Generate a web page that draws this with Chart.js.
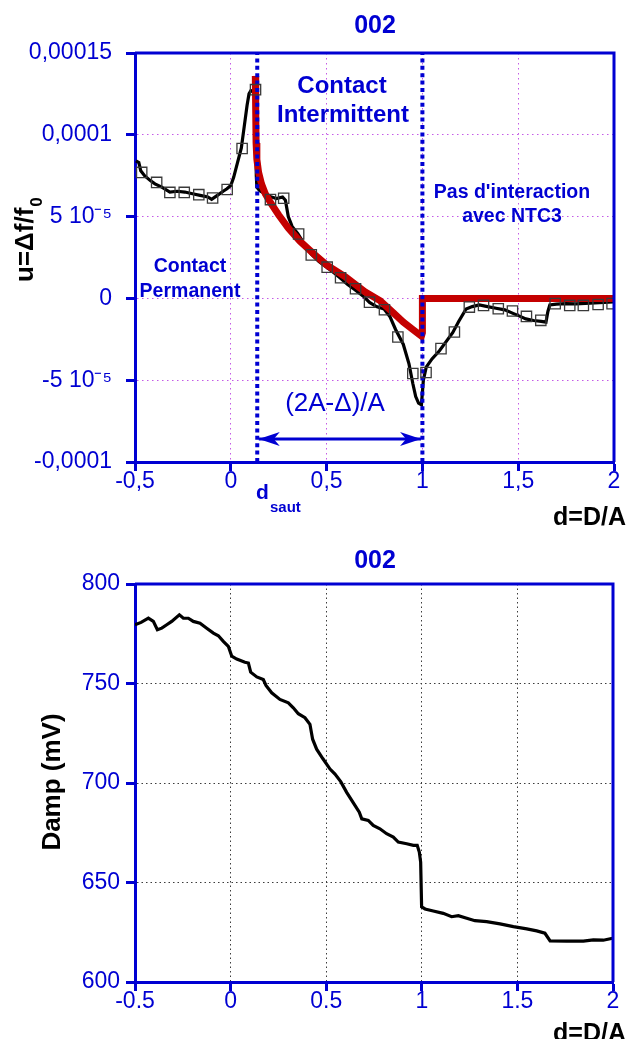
<!DOCTYPE html>
<html>
<head>
<meta charset="utf-8">
<style>
html,body{margin:0;padding:0;background:#fff;width:627px;height:1039px;overflow:hidden}
#w1{position:absolute;left:0;top:0;width:627px;height:530px}
#w2{position:absolute;left:0;top:530px;width:627px;height:509px}
</style>
<script src="https://cdn.jsdelivr.net/npm/chart.js@4.4.1/dist/chart.umd.min.js"></script>
</head>
<body>
<div id="w1"><canvas id="c1"></canvas></div>
<div id="w2"><canvas id="c2"></canvas></div>
<script>
// ---------- DATA: top chart (u = Δf/f0 vs d = D/A) ----------
const topLineX = [-0.495,-0.48,-0.47,-0.45,-0.42,-0.396,-0.36,-0.318,-0.28,-0.24,-0.20,-0.16,-0.12,-0.10,-0.07,-0.04,-0.02,0.0,0.015,0.035,0.055,0.07,0.085,0.095,0.105,0.115,0.125,0.13,0.133,0.136,0.15,0.17,0.20,0.238,0.27,0.285,0.30,0.32,0.35,0.39,0.42,0.46,0.50,0.54,0.576,0.61,0.646,0.69,0.724,0.76,0.80,0.83,0.86,0.90,0.93,0.95,0.965,0.98,0.995,1.005,1.02,1.05,1.089,1.12,1.158,1.19,1.228,1.26,1.297,1.34,1.384,1.43,1.47,1.51,1.54,1.58,1.62,1.645,1.655,1.665,1.70,1.748,1.80,1.85,1.90,1.95,1.995];
const topLineY = [8.4e-5,8.3e-5,7.8e-5,7.5e-5,7.2e-5,7.0e-5,6.8e-5,6.5e-5,6.55e-5,6.5e-5,6.4e-5,6.3e-5,6.2e-5,6.05e-5,6.3e-5,6.55e-5,6.7e-5,6.9e-5,7.4e-5,8.3e-5,9.2e-5,1.05e-4,1.18e-4,1.25e-4,1.27e-4,1.265e-4,1.275e-4,1.25e-4,7.5e-5,6.8e-5,6.6e-5,6.45e-5,6.25e-5,6.1e-5,6.2e-5,6.0e-5,5.0e-5,4.4e-5,3.95e-5,3.2e-5,2.7e-5,2.25e-5,1.9e-5,1.55e-5,1.2e-5,8.5e-6,5.5e-6,1.5e-6,-2.5e-6,-5e-6,-6.5e-6,-1.1e-5,-1.9e-5,-2.8e-5,-4.0e-5,-5.2e-5,-6.0e-5,-6.4e-5,-6.5e-5,-5.0e-5,-4.2e-5,-3.7e-5,-3.2e-5,-2.7e-5,-2.1e-5,-1.4e-5,-6.5e-6,-5e-6,-4e-6,-5e-6,-6e-6,-7e-6,-9e-6,-1.1e-5,-1.25e-5,-1.35e-5,-1.4e-5,-1.45e-5,-8e-6,-4e-6,-3.5e-6,-3.2e-6,-3.3e-6,-3.0e-6,-2.8e-6,-2.5e-6,-2.2e-6];

const topFitX = [0.128,0.130,0.132,0.136,0.145,0.16,0.18,0.21,0.25,0.30,0.36,0.43,0.50,0.60,0.70,0.78,0.85,0.90,0.95,0.995,1.0,1.0,2.0];
const topFitY = [1.36e-4,1.15e-4,9.5e-5,8.5e-5,7.7e-5,7.0e-5,6.4e-5,5.8e-5,5.1e-5,4.3e-5,3.5e-5,2.75e-5,2.05e-5,1.3e-5,4e-6,-1.5e-6,-9e-6,-1.45e-5,-1.9e-5,-2.3e-5,-2.1e-5,0,0];

const topMarkX = [-0.465,-0.387,-0.318,-0.243,-0.167,-0.095,-0.019,0.059,0.129,0.207,0.276,0.354,0.42,0.503,0.573,0.651,0.724,0.802,0.872,0.95,1.019,1.097,1.167,1.245,1.319,1.396,1.47,1.543,1.618,1.693,1.769,1.84,1.917,1.99];
const topMarkY = [7.7e-5,7.09e-5,6.48e-5,6.48e-5,6.34e-5,6.14e-5,6.66e-5,9.16e-5,1.276e-4,6.04e-5,6.12e-5,3.94e-5,2.66e-5,1.91e-5,1.26e-5,5.9e-6,-2.3e-6,-6.9e-6,-2.36e-5,-4.59e-5,-4.53e-5,-3.07e-5,-2.05e-5,-5.3e-6,-4.3e-6,-6.3e-6,-7.7e-6,-1.1e-5,-1.34e-5,-3.2e-6,-4.3e-6,-4.3e-6,-3.7e-6,-3.2e-6];

const regimeX = [0.138, 1.0];          // d_saut and d = 1
const arrowX = [0.146, 0.993];         // (2A-Δ)/A span
const arrowY = -8.6e-5;

const topXTicks = [-0.5,0,0.5,1,1.5,2];
const topXLabels = ['-0,5','0','0,5','1','1,5','2'];
const topYTicks = [-1e-4,-5e-5,0,5e-5,1e-4,1.5e-4];
const topYLabels = ['-0,0001','-5 10\u207B\u2075','0','5 10\u207B\u2075','0,0001','0,00015'];

// ---------- DATA: bottom chart (Damp vs d) ----------
const dampX = [-0.5,-0.468,-0.43,-0.404,-0.383,-0.36,-0.334,-0.308,-0.268,-0.247,-0.221,-0.195,-0.16,-0.125,-0.09,-0.064,-0.038,-0.012,0.006,0.032,0.075,0.093,0.105,0.137,0.171,0.185,0.215,0.258,0.302,0.328,0.354,0.389,0.415,0.429,0.45,0.482,0.52,0.546,0.576,0.607,0.642,0.673,0.686,0.72,0.746,0.781,0.816,0.851,0.877,0.921,0.956,0.976,0.987,0.994,0.999,1.017,1.06,1.112,1.156,1.191,1.235,1.278,1.339,1.409,1.479,1.549,1.601,1.644,1.671,1.758,1.845,1.897,1.949,1.998];
const dampY = [779.5,780.7,782.8,781.2,777,777.8,779.5,781.2,784.5,782.8,782.8,781.2,780.3,777.8,775.3,774,771.2,768.7,763.7,762.3,760.7,760.3,755.7,753.3,752,749,745.3,742,740.3,737.8,734.8,732.8,729.5,722,717,712.3,707,704.5,700.7,695.3,690,685.3,682,681.2,678.7,677,674.5,672.8,670.3,669.5,668.7,668.7,665.3,660.3,637.8,636.7,635.7,634.5,632.8,633.3,632,630.8,630.3,629.2,627.8,626.7,625.7,624.5,620.7,620.5,620.5,621.2,621,622];

const botXTicks = [-0.5,0,0.5,1,1.5,2];
const botXLabels = ['-0.5','0','0.5','1','1.5','2'];
const botYTicks = [600,650,700,750,800];
const botYLabels = ['600','650','700','750','800'];

// ---------- helpers ----------
const BLUE = '#0000d2';
const FONT = '"Liberation Sans", Arial, Helvetica, sans-serif';
const pts = (xs, ys) => xs.map((x, i) => ({x: x, y: Array.isArray(ys) ? ys[i] : ys}));

function makeScale(tickVals, tickLabels, gridColor, dash, fitProp, fitVal, pad) {
  return {
    type: 'linear',
    min: tickVals[0],
    max: tickVals[tickVals.length - 1],
    afterBuildTicks: s => { s.ticks = tickVals.map(v => ({value: v})); },
    afterFit: s => { s[fitProp] = fitVal; },
    ticks: {
      autoSkip: false, maxRotation: 0, minRotation: 0, color: BLUE, padding: pad,
      font: {family: FONT, size: 23, lineHeight: 1},
      callback: (v, i) => tickLabels[i]
    },
    grid: {
      color: c => (c.index === 0 || c.index === tickVals.length - 1) ? 'rgba(0,0,0,0)' : gridColor,
      lineWidth: 1, drawTicks: true, tickLength: 9, tickWidth: 3, tickColor: BLUE
    },
    border: {display: true, color: BLUE, width: 3, dash: dash}
  };
}

function txt(ctx, s, x, y, size, bold, color, align) {
  ctx.font = (bold ? 'bold ' : '') + size + 'px ' + FONT;
  ctx.fillStyle = color;
  ctx.textAlign = align || 'center';
  ctx.textBaseline = 'alphabetic';
  ctx.fillText(s, x, y);
}

const framePlugin = {
  id: 'frame',
  afterDraw(chart) {
    const {ctx, chartArea: a} = chart;
    ctx.save();
    ctx.strokeStyle = BLUE;
    ctx.lineWidth = 3;
    ctx.beginPath();
    ctx.moveTo(a.left, a.top);
    ctx.lineTo(a.right, a.top);
    ctx.lineTo(a.right, a.bottom);
    ctx.stroke();
    ctx.restore();
  }
};

// ---------- top chart ----------
const topAnnot = {
  id: 'topAnnot',
  afterDraw(chart) {
    const ctx = chart.ctx;
    ctx.save();
    // arrow heads
    const meta = chart.getDatasetMeta(5);
    const p0 = meta.data[0], p1 = meta.data[1];
    ctx.fillStyle = BLUE;
    [[p0, 1], [p1, -1]].forEach(([p, d]) => {
      ctx.beginPath();
      ctx.moveTo(p.x, p.y);
      ctx.lineTo(p.x + d * 21, p.y - 7);
      ctx.lineTo(p.x + d * 15, p.y);
      ctx.lineTo(p.x + d * 21, p.y + 7);
      ctx.closePath();
      ctx.fill();
    });
    txt(ctx, '002', 375, 33, 25, true, BLUE);
    txt(ctx, 'Contact', 342, 93, 24, true, BLUE);
    txt(ctx, 'Intermittent', 343, 122, 24, true, BLUE);
    txt(ctx, 'Contact', 190, 272, 19.5, true, BLUE);
    txt(ctx, 'Permanent', 190, 296.5, 19.5, true, BLUE);
    txt(ctx, "Pas d'interaction", 512, 198, 19.5, true, BLUE);
    txt(ctx, 'avec NTC3', 512, 222, 19.5, true, BLUE);
    txt(ctx, '(2A-\u0394)/A', 335, 411, 26, false, BLUE);
    txt(ctx, 'd', 256, 499, 21, true, BLUE, 'left');
    txt(ctx, 'saut', 270, 512, 15, true, BLUE, 'left');
    txt(ctx, 'd=D/A', 626, 525, 25, true, '#000', 'right');
    // y title
    ctx.translate(33, 282);
    ctx.rotate(-Math.PI / 2);
    ctx.font = 'bold 26px ' + FONT;
    const w = ctx.measureText('u=\u0394f/f').width;
    txt(ctx, 'u=\u0394f/f', 0, 0, 26, true, '#000', 'left');
    txt(ctx, '0', w + 1, 9, 17, true, '#000', 'left');
    ctx.restore();
  }
};

new Chart(document.getElementById('c1'), {
  type: 'line',
  data: {
    datasets: [
      {data: pts(topMarkX, topMarkY), showLine: false, pointStyle: 'rect', pointRadius: 7.3,
       pointBorderColor: '#3a3a3a', pointBorderWidth: 1.3, pointBackgroundColor: 'rgba(0,0,0,0)', order: 0},
      {data: pts(regimeX.slice(0,1).concat(regimeX.slice(0,1)), [topYTicks[0], topYTicks[topYTicks.length-1]]),
       borderColor: BLUE, borderWidth: 4, borderDash: [4, 3.4], pointRadius: 0, order: 1},
      {data: pts(regimeX.slice(1).concat(regimeX.slice(1)), [topYTicks[0], topYTicks[topYTicks.length-1]]),
       borderColor: BLUE, borderWidth: 4, borderDash: [4, 3.4], pointRadius: 0, order: 1},
      {data: pts(topFitX, topFitY), borderColor: '#c40000', borderWidth: 7, pointRadius: 0, order: 2},
      {data: pts(topLineX, topLineY), borderColor: '#000', borderWidth: 3.2, pointRadius: 0, order: 3},
      {data: pts(arrowX, arrowY), borderColor: BLUE, borderWidth: 3, pointRadius: 0, order: 1}
    ]
  },
  options: {
    responsive: true, maintainAspectRatio: false, animation: false, devicePixelRatio: 1,
    layout: {padding: {top: 53, right: 13, left: 0, bottom: 0}},
    plugins: {legend: {display: false}, tooltip: {enabled: false}},
    elements: {line: {tension: 0, borderCapStyle: 'butt'}},
    scales: {
      x: makeScale(topXTicks, topXLabels, '#c45ae6', [1.5, 3.5], 'height', 68, -1),
      y: makeScale(topYTicks, topYLabels, '#c45ae6', [1.5, 3.5], 'width', 135, 14)
    }
  },
  plugins: [framePlugin, topAnnot]
});

// ---------- bottom chart ----------
const botAnnot = {
  id: 'botAnnot',
  afterDraw(chart) {
    const ctx = chart.ctx;
    ctx.save();
    txt(ctx, '002', 375, 38, 25, true, BLUE);
    txt(ctx, 'd=D/A', 626, 511, 25, true, '#000', 'right');
    ctx.translate(60, 252);
    ctx.rotate(-Math.PI / 2);
    txt(ctx, 'Damp (mV)', 0, 0, 26, true, '#000', 'center');
    ctx.restore();
  }
};

new Chart(document.getElementById('c2'), {
  type: 'line',
  data: {
    datasets: [
      {data: pts(dampX, dampY), borderColor: '#000', borderWidth: 3.2, pointRadius: 0}
    ]
  },
  options: {
    responsive: true, maintainAspectRatio: false, animation: false, devicePixelRatio: 1,
    layout: {padding: {top: 54, right: 14, left: 0, bottom: 0}},
    plugins: {legend: {display: false}, tooltip: {enabled: false}},
    elements: {line: {tension: 0}},
    scales: {
      x: makeScale(botXTicks, botXLabels, '#3c3c3c', [1.5, 3], 'height', 57, -1),
      y: makeScale(botYTicks, botYLabels, '#3c3c3c', [1.5, 3], 'width', 135, 6)
    }
  },
  plugins: [framePlugin, botAnnot]
});
</script>
</body>
</html>
